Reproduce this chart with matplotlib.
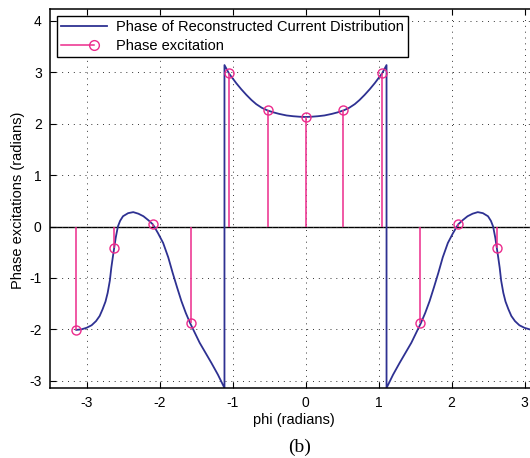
import matplotlib
matplotlib.use('Agg')
import matplotlib.pyplot as plt
from matplotlib.lines import Line2D
from matplotlib.legend_handler import HandlerLine2D
import numpy as np

plt.rcParams['font.family'] = ['Liberation Sans', 'DejaVu Sans']
plt.rcParams['axes.unicode_minus'] = False

# element positions and their phase excitations
phi_el = [-3.14, -2.62, -2.09, -1.57, -1.05, -0.52, 0.0, 0.52, 1.05, 1.57, 2.09, 2.62]
phase_el = [-2.01, -0.41, 0.04, -1.88, 2.99, 2.27, 2.13, 2.27, 2.99, -1.88, 0.04, -0.41]

# reconstructed phase curve
phi_left = [-3.14, -3.07, -3.0, -2.93, -2.87, -2.82, -2.78, -2.74, -2.71, -2.68, -2.66, -2.64,
            -2.62, -2.60, -2.57, -2.54, -2.50, -2.43, -2.36, -2.29, -2.22, -2.15, -2.09,
            -2.02, -1.95, -1.88, -1.82, -1.76, -1.70, -1.64, -1.58, -1.45, -1.29, -1.20, -1.11]
ph_left = [-2.01, -2.0, -1.97, -1.92, -1.84, -1.74, -1.61, -1.46, -1.29, -1.05, -0.80, -0.60,
           -0.41, -0.22, 0.0, 0.11, 0.20, 0.26, 0.28, 0.25, 0.20, 0.12, 0.04,
           -0.13, -0.32, -0.60, -0.90, -1.18, -1.45, -1.68, -1.88, -2.26, -2.65, -2.88, -3.14]
phi_mid = [-1.11, -1.11, -1.05, -0.95, -0.88, -0.81, -0.74, -0.675, -0.6, -0.525, -0.44,
           -0.36, -0.26, -0.17, -0.08, 0.0,
           0.08, 0.17, 0.26, 0.36, 0.44, 0.525, 0.6, 0.675, 0.74, 0.81, 0.88, 0.95, 1.05,
           1.11, 1.11]
ph_mid = [-3.14, 3.14, 2.98, 2.79, 2.67, 2.56, 2.46, 2.38, 2.31, 2.26, 2.22,
          2.19, 2.16, 2.145, 2.135, 2.13,
          2.135, 2.145, 2.16, 2.19, 2.22, 2.26, 2.31, 2.38, 2.46, 2.56, 2.67, 2.79, 2.98,
          3.14, -3.14]
phi_right = [1.11, 1.20, 1.29, 1.45, 1.58, 1.64, 1.70, 1.76, 1.82, 1.88, 1.95, 2.02, 2.09,
             2.15, 2.22, 2.29, 2.36, 2.43, 2.50, 2.54, 2.57, 2.60, 2.62, 2.64, 2.66, 2.68,
             2.71, 2.74, 2.78, 2.82, 2.87, 2.93, 3.0, 3.07, 3.14]
ph_right = [-3.14, -2.88, -2.65, -2.26, -1.88, -1.68, -1.45, -1.18, -0.90, -0.60, -0.32,
            -0.13, 0.04, 0.12, 0.20, 0.25, 0.28, 0.26, 0.20, 0.11, 0.0, -0.22, -0.41, -0.60,
            -0.80, -1.05, -1.29, -1.46, -1.61, -1.74, -1.84, -1.92, -1.97, -2.0, -2.01]

blue = '#2e3192'
pink = '#ec2b8c'


class StemHandler(HandlerLine2D):
    # short line with the circle near its right end, like the MATLAB stem legend
    def create_artists(self, legend, orig_handle, xdescent, ydescent, width, height,
                       fontsize, trans):
        y = height / 2 - ydescent
        x0 = -xdescent
        x1 = x0 + 0.7 * width
        ln = Line2D([x0, x1], [y, y], color=pink, lw=1.1, transform=trans)
        mk = Line2D([x1], [y], ls='none', marker='o', ms=7, mfc='none', mec=pink, mew=1.0,
                    transform=trans)
        return [ln, mk]


W, H = 530, 458
fig = plt.figure(figsize=(W / 100, H / 100), dpi=100)
ax = fig.add_axes([50 / W, 1 - 388 / H, 511 / W, 379 / H])

phi_curve = phi_left + phi_mid + phi_right
ph_curve = ph_left + ph_mid + ph_right
curve, = ax.plot(phi_curve, ph_curve, color=blue, lw=1.3)

ax.axhline(0, color='black', lw=1.0, zorder=1.5)
ax.vlines(phi_el, 0, phase_el, color=pink, lw=1.1, zorder=2)
stems, = ax.plot(phi_el, phase_el, ls='none', marker='o', ms=6.5, mfc='none', mec=pink,
                 mew=1.0, zorder=3)

ax.set_xlim(-3.5, 3.5)
ax.set_ylim(-3.14, 4.23)
ax.set_xticks([-3, -2, -1, 0, 1, 2, 3])
ax.set_yticks([-3, -2, -1, 0, 1, 2, 3, 4])
ax.tick_params(direction='in', top=True, right=True, length=4, width=0.8, labelsize=10, pad=6)
ax.grid(True, color='#333333', ls=(0, (1, 5)), lw=0.7)
for s in ax.spines.values():
    s.set_linewidth(1.1)

leg = ax.legend([curve, stems], ['Phase of Reconstructed Current Distribution', 'Phase excitation'],
                handler_map={stems: StemHandler()},
                loc='upper left', bbox_to_anchor=(57 / W, 1 - 16 / H), bbox_transform=fig.transFigure,
                borderaxespad=0, fancybox=False, framealpha=1, edgecolor='black', fontsize=10.5,
                handlelength=3.15, handletextpad=0.6, borderpad=0.3, labelspacing=0.3)
leg.get_frame().set_linewidth(1.0)

fig.text(294 / W, 1 - 420 / H, 'phi (radians)', ha='center', va='center', fontsize=10.5)
fig.text(18 / W, 1 - 200 / H, 'Phase excitations (radians)', ha='center', va='center',
         rotation=90, fontsize=10.5)
fig.text(300 / W, 1 - 447 / H, '(b)', ha='center', va='center', fontsize=14,
         family=['Liberation Serif', 'DejaVu Serif'])

fig.savefig('out.png', dpi=100)
